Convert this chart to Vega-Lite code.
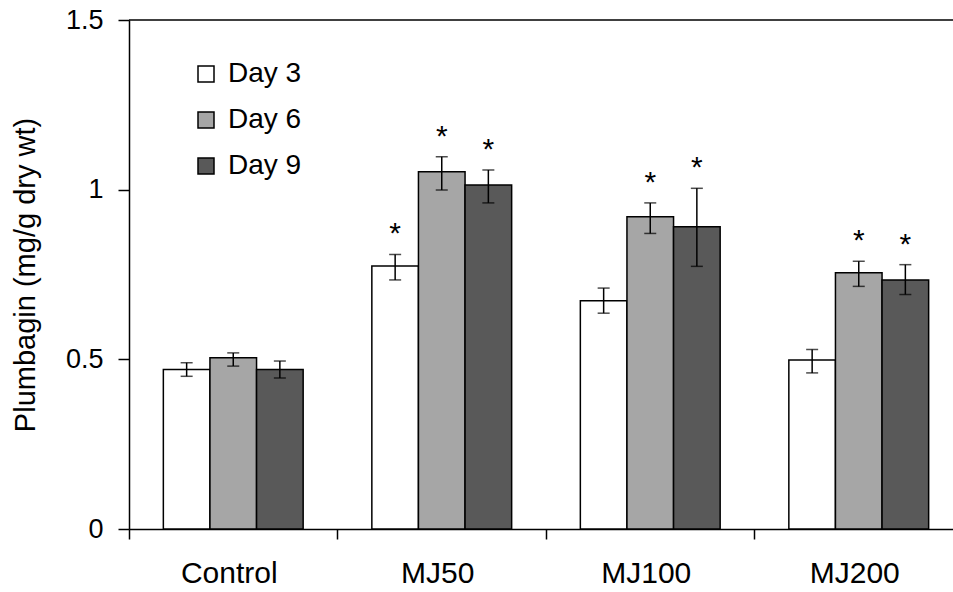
{
  "$schema": "https://vega.github.io/schema/vega-lite/v6.json",
  "autosize": {"type": "none"},
  "padding": {"left": 129, "top": 20, "right": 0, "bottom": 63},
  "width": 824,
  "height": 509,
  "background": "white",
  "config": {
    "font": "Liberation Sans",
    "view": {"stroke": null},
    "axis": {"domainColor": "black", "domainWidth": 1.5, "tickColor": "black", "tickWidth": 1.5, "labelColor": "black", "titleColor": "black", "grid": false}
  },
  "data": {"values": [
    {"group": "Control", "day": "Day 3", "mean": 0.47, "lo": 0.450, "hi": 0.490, "sig": ""},
    {"group": "Control", "day": "Day 6", "mean": 0.505, "lo": 0.480, "hi": 0.519, "sig": ""},
    {"group": "Control", "day": "Day 9", "mean": 0.47, "lo": 0.445, "hi": 0.495, "sig": ""},
    {"group": "MJ50", "day": "Day 3", "mean": 0.775, "lo": 0.734, "hi": 0.809, "sig": "*"},
    {"group": "MJ50", "day": "Day 6", "mean": 1.053, "lo": 0.999, "hi": 1.097, "sig": "*"},
    {"group": "MJ50", "day": "Day 9", "mean": 1.014, "lo": 0.961, "hi": 1.058, "sig": "*"},
    {"group": "MJ100", "day": "Day 3", "mean": 0.673, "lo": 0.636, "hi": 0.710, "sig": ""},
    {"group": "MJ100", "day": "Day 6", "mean": 0.920, "lo": 0.871, "hi": 0.961, "sig": "*"},
    {"group": "MJ100", "day": "Day 9", "mean": 0.891, "lo": 0.774, "hi": 1.004, "sig": "*"},
    {"group": "MJ200", "day": "Day 3", "mean": 0.498, "lo": 0.460, "hi": 0.529, "sig": ""},
    {"group": "MJ200", "day": "Day 6", "mean": 0.755, "lo": 0.715, "hi": 0.789, "sig": "*"},
    {"group": "MJ200", "day": "Day 9", "mean": 0.734, "lo": 0.691, "hi": 0.779, "sig": "*"}
  ]},
  "encoding": {
    "x": {
      "field": "group", "type": "nominal", "sort": ["Control", "MJ50", "MJ100", "MJ200"],
      "scale": {"range": [0, 834], "paddingInner": 0, "paddingOuter": 0},
      "axis": {"title": null, "bandPosition": 0, "labelOffset": -4, "labelAngle": 0, "labelFontSize": 30, "tickSize": 10, "labelPadding": 19}
    },
    "xOffset": {"field": "day", "type": "nominal", "sort": ["Day 3", "Day 6", "Day 9"], "scale": {"paddingOuter": 0.737, "paddingInner": 0}}
  },
  "layer": [
    {
      "mark": {"type": "bar", "stroke": "black", "strokeWidth": 1.5},
      "encoding": {
        "y": {
          "field": "mean", "type": "quantitative",
          "scale": {"domain": [0, 1.5], "nice": false},
          "axis": {"title": "Plumbagin (mg/g dry wt)", "titleFontSize": 29, "titleFontWeight": "normal", "titlePadding": 25, "values": [0, 0.5, 1, 1.5], "format": ".1~f", "labelFontSize": 27, "tickSize": 11, "labelPadding": 15}
        },
        "fill": {
          "field": "day", "type": "nominal",
          "scale": {"domain": ["Day 3", "Day 6", "Day 9"], "range": ["#ffffff", "#a6a6a6", "#595959"]},
          "legend": {
            "title": null, "orient": "none", "legendX": 63, "legendY": 40,
            "symbolType": "square", "symbolSize": 256, "symbolStrokeColor": "black", "symbolStrokeWidth": 1.5,
            "labelFontSize": 28, "labelColor": "black", "labelOffset": 8, "rowPadding": 18, "padding": 0
          }
        }
      }
    },
    {
      "mark": {"type": "rule", "color": "black", "strokeWidth": 1.5},
      "encoding": {"y": {"field": "lo", "type": "quantitative"}, "y2": {"field": "hi"}}
    },
    {
      "mark": {"type": "tick", "color": "black", "thickness": 1.5, "size": 12},
      "encoding": {"y": {"field": "lo", "type": "quantitative"}}
    },
    {
      "mark": {"type": "tick", "color": "black", "thickness": 1.5, "size": 12},
      "encoding": {"y": {"field": "hi", "type": "quantitative"}}
    },
    {
      "mark": {"type": "text", "fontSize": 30, "color": "black", "baseline": "alphabetic", "dy": -11},
      "encoding": {"y": {"field": "hi", "type": "quantitative"}, "text": {"field": "sig"}}
    },
    {
      "data": {"values": [{"top": 1.5}]},
      "mark": {"type": "rule", "color": "black", "strokeWidth": 1.5},
      "encoding": {"y": {"field": "top", "type": "quantitative"}, "x": null, "xOffset": null}
    }
  ]
}
